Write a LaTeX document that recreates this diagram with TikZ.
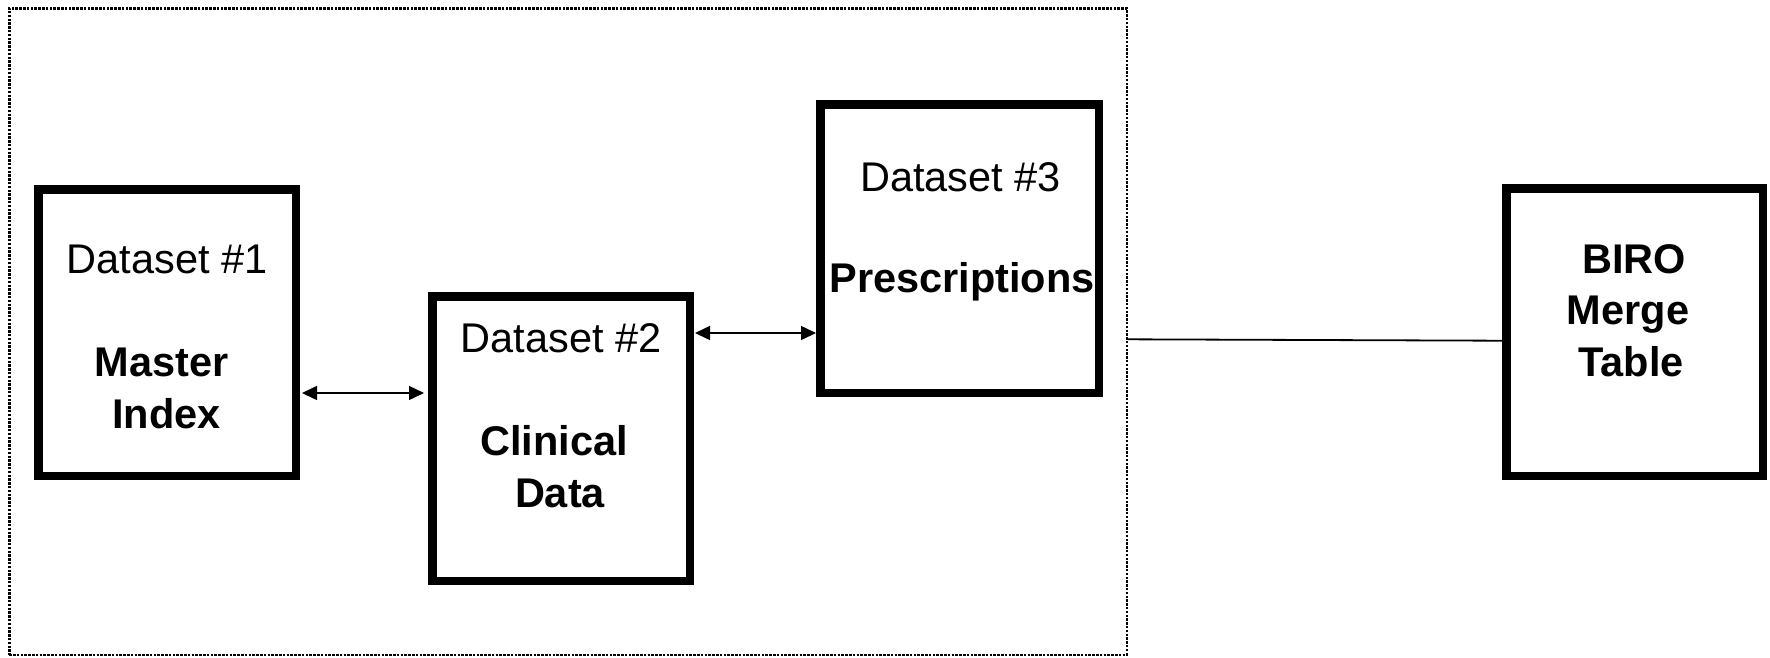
\documentclass[tikz,border=0pt]{standalone}
\usepackage{fontspec}
\setmainfont{Liberation Sans}
\usetikzlibrary{arrows.meta}
\begin{document}
\begin{tikzpicture}[x=1pt,y=-1pt,
  boxnode/.style={draw=black,line width=8.5pt,fill=white,inner sep=0pt},
  txt/.style={anchor=base,inner sep=0pt,font=\fontsize{41.5}{51.5}\selectfont},
  btxt/.style={txt,font=\fontsize{41.5}{51.5}\selectfont\bfseries},
  frameline/.style={draw=black,line width=2.5pt,dash pattern=on 2.5pt off 1.3pt,inner sep=0pt},
  dbl/.style={line width=1.5pt,{Triangle[length=15pt,width=14pt]}-{Triangle[length=15pt,width=14pt]}},
  plain/.style={line width=1.8pt}
]
\useasboundingbox (0,0) rectangle (1770,657);
\fill[white] (0,0) rectangle (1770,657);

% dotted frame
\node[frameline,minimum width=1117.5pt,minimum height=646.5pt] (frame) at (568,331.5) {};

% boxes
\node[boxnode,minimum width=257.5pt,minimum height=286.5pt] (box1) at (167,332.5) {};
\node[boxnode,minimum width=257.5pt,minimum height=284.5pt] (box2) at (561,438.5) {};
\node[boxnode,minimum width=278.5pt,minimum height=288.5pt] (box3) at (959.5,248.5) {};
\node[boxnode,minimum width=256.5pt,minimum height=287.5pt] (box4) at (1634.5,332) {};

% texts
\node[txt]  (t1a) at (167,273) {Dataset \#1};
\node[btxt] (t1b) at (161.5,376) {Master};
\node[btxt] (t1c) at (166.5,428) {Index};

\node[txt]  (t2a) at (561,352) {Dataset \#2};
\node[btxt] (t2b) at (554,455) {Clinical};
\node[btxt] (t2c) at (560,507) {Data};

\node[txt]  (t3a) at (960.5,191) {Dataset \#3};
\node[btxt] (t3b) at (962,292) {Prescriptions};

\node[btxt] (t4a) at (1634,273) {BIRO};
\node[btxt] (t4b) at (1628,324.5) {Merge};
\node[btxt] (t4c) at (1631,376) {Table};

% connectors
\coordinate (r1) at (0,393);
\coordinate (r2) at (0,333);
\coordinate (l1) at (0,339.3);
\coordinate (l2) at (0,340.7);
\draw[dbl] ([xshift=2pt]box1.east |- r1) -- ([xshift=-4pt]box2.west |- r1);
\draw[dbl] ([xshift=1pt]box2.east |- r2) -- (box3.west |- r2);
\draw[plain] (frame.east |- l1) -- (box4.west |- l2);
\end{tikzpicture}
\end{document}
